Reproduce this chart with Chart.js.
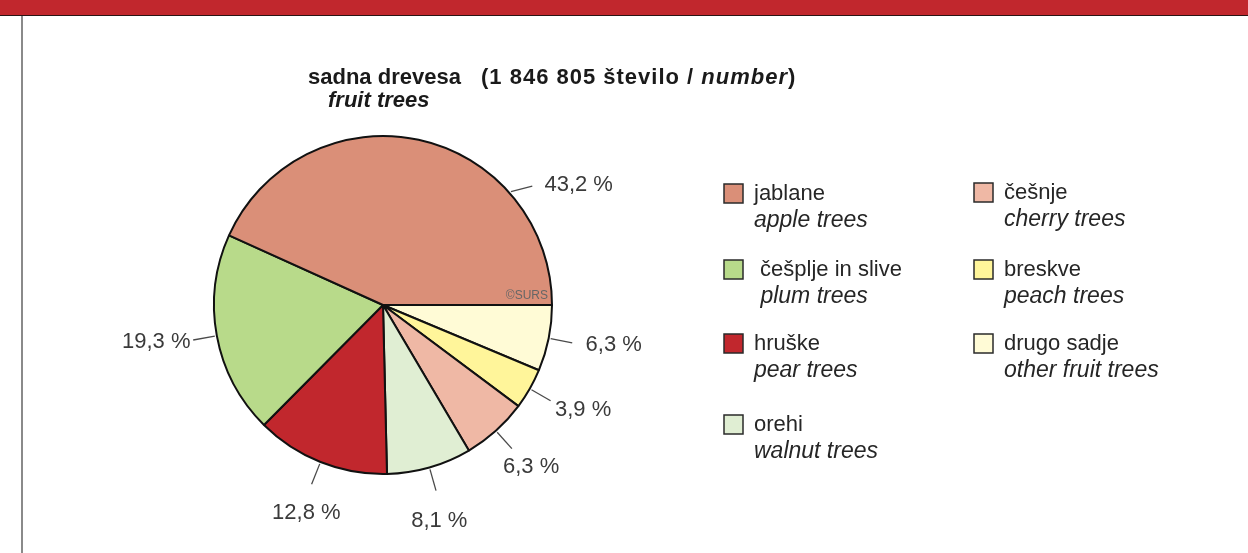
<!DOCTYPE html>
<html>
<head>
<meta charset="utf-8">
<script src="https://cdn.jsdelivr.net/npm/chart.js@4.4.1/dist/chart.umd.min.js"></script>
<style>
	html, body { margin: 0; padding: 0; background: #fff; overflow: hidden; }
	#band { position: absolute; left: 0; top: 0; width: 1248px; height: 15px; background: #c1272d; border-bottom: 1px solid #2a1414; }
	#frame { position: absolute; left: 21px; top: 16px; width: 0; height: 537px; border-left: 2px solid #8a8a8a; }
	#wrap { position: absolute; left: 0; top: 0; width: 1248px; height: 553px; }
</style>
</head>
<body>
<div id="wrap"><canvas id="chart1" width="1248" height="553"></canvas></div>
<div id="band"></div>
<div id="frame"></div>
<script>

// DATA (legend order)

let categories = ["jablane", " češplje in slive", "hruške", "orehi", "češnje", "breskve", "drugo sadje"];
let categoriesEn = ["apple trees", " plum trees", "pear trees", "walnut trees", "cherry trees", "peach trees", "other fruit trees"];
let shares = [43.2, 19.3, 12.8, 8.1, 6.3, 3.9, 6.3];
let colours = ["#da8f78", "#b8da8a", "#c1272d", "#e0eed3", "#efb8a5", "#fff59a", "#fffbd6"];
let totalTrees = "1 846 805";

// where along each slice its leader line sits (0.5 = middle),
// and a fixed direction (deg) for the outer leader where it is not radial
let labelAnchor = [0.733, 0.5, 0.5, 0.5, 0.5, 0.5, 0.5];
let leaderDir = [-14, null, null, null, null, null, null];

let FONT = "'Liberation Sans', Arial, Helvetica, sans-serif";

// slices run counter-clockwise in the picture, so feed them reversed
let n = shares.length;
let order = [];
for (let i = n - 1; i >= 0; i--){
	order.push(i);
}


// LEADER LINES + PERCENT LABELS

let sliceLabels = {
	id: "sliceLabels",
	afterDatasetsDraw: function(chart){
		let ctx = chart.ctx;
		let arcs = chart.getDatasetMeta(0).data;
		ctx.save();
		ctx.font = "22px " + FONT;
		ctx.fillStyle = "#3a3a3a";
		ctx.strokeStyle = "#4a4a4a";
		ctx.lineWidth = 1.3;
		ctx.textAlign = "center";
		ctx.textBaseline = "middle";
		for (let i = 0; i < arcs.length; i++){
			let arc = arcs[i];
			let k = order[i];
			let a = arc.startAngle + (arc.endAngle - arc.startAngle) * labelAnchor[k];
			let r1 = arc.outerRadius + 2;
			let x1 = arc.x + Math.cos(a) * r1;
			let y1 = arc.y + Math.sin(a) * r1;
			let d = (leaderDir[k] === null) ? a : leaderDir[k] * Math.PI / 180;
			let c = Math.cos(d), s = Math.sin(d);
			let x2 = x1 + c * 22;
			let y2 = y1 + s * 22;
			ctx.beginPath();
			ctx.moveTo(x1, y1);
			ctx.lineTo(x2, y2);
			ctx.stroke();
			let txt = shares[k].toFixed(1).replace(".", ",") + " %";
			let hw = ctx.measureText(txt).width / 2;
			let gap = (c > 0) ? 15 : 4;
			let dx = Math.sign(c) * c * c * (hw + gap);
			let dy = Math.sign(s) * s * s * 32;
			ctx.fillText(txt, x2 + dx, y2 + dy + 1);
		}
		// copyright tag above the right radius
		let first = arcs[0];
		ctx.font = "12px " + FONT;
		ctx.fillStyle = "#666";
		ctx.textAlign = "right";
		ctx.textBaseline = "alphabetic";
		ctx.fillText("©SURS", first.x + first.outerRadius - 4, first.y - 6);
		ctx.restore();
	}
};


// TITLE

let titleBlock = {
	id: "titleBlock",
	afterDraw: function(chart){
		let ctx = chart.ctx;
		ctx.save();
		ctx.fillStyle = "#1a1a1a";
		ctx.textBaseline = "alphabetic";
		ctx.textAlign = "left";
		ctx.font = "bold 22px " + FONT;
		ctx.fillText("sadna drevesa", 308, 84);
		ctx.letterSpacing = "1px";
		let x = 481;
		let part1 = "(" + totalTrees + " število / ";
		ctx.fillText(part1, x, 84);
		x += ctx.measureText(part1).width;
		ctx.font = "italic bold 22px " + FONT;
		ctx.fillText("number", x, 84);
		x += ctx.measureText("number").width;
		ctx.font = "bold 22px " + FONT;
		ctx.fillText(")", x, 84);
		ctx.letterSpacing = "0px";
		ctx.font = "italic bold 22px " + FONT;
		ctx.fillText("fruit trees", 328, 107);
		ctx.restore();
	}
};


// LEGEND (two columns)

let legendCols = [724, 974];
let legendRows = [[193, 269, 343, 424], [192, 269, 343]];

let legendBlock = {
	id: "legendBlock",
	afterDraw: function(chart){
		let ctx = chart.ctx;
		ctx.save();
		ctx.textAlign = "left";
		ctx.textBaseline = "middle";
		let k = 0;
		for (let col = 0; col < legendRows.length; col++){
			for (let row = 0; row < legendRows[col].length; row++){
				let x = legendCols[col];
				let y = legendRows[col][row];
				ctx.fillStyle = colours[k];
				ctx.fillRect(x, y - 9, 19, 19);
				ctx.strokeStyle = "#2a2a2a";
				ctx.lineWidth = 1.5;
				ctx.strokeRect(x, y - 9, 19, 19);
				ctx.fillStyle = "#262626";
				ctx.font = "22px " + FONT;
				ctx.fillText(categories[k], x + 30, y + 1);
				ctx.font = "italic 23px " + FONT;
				ctx.fillText(categoriesEn[k], x + 30, y + 28);
				k++;
			}
		}
		ctx.restore();
	}
};


// PIE

let ctx1 = document.getElementById("chart1");

let myChart1 = new Chart(ctx1, {
	type: "pie",
	data: {
		labels: order.map(function(i){ return categories[i].trim(); }),
		datasets: [{
			data: order.map(function(i){ return shares[i]; }),
			backgroundColor: order.map(function(i){ return colours[i]; }),
			borderColor: "#111",
			borderWidth: 2
		}]
	},
	options: {
		responsive: false,
		animation: false,
		rotation: 90,
		layout: {
			padding: { left: 213, right: 695, top: 135, bottom: 78 }
		},
		plugins: {
			legend: { display: false },
			tooltip: { enabled: false }
		}
	},
	plugins: [sliceLabels, titleBlock, legendBlock]
});

</script>
</body>
</html>
